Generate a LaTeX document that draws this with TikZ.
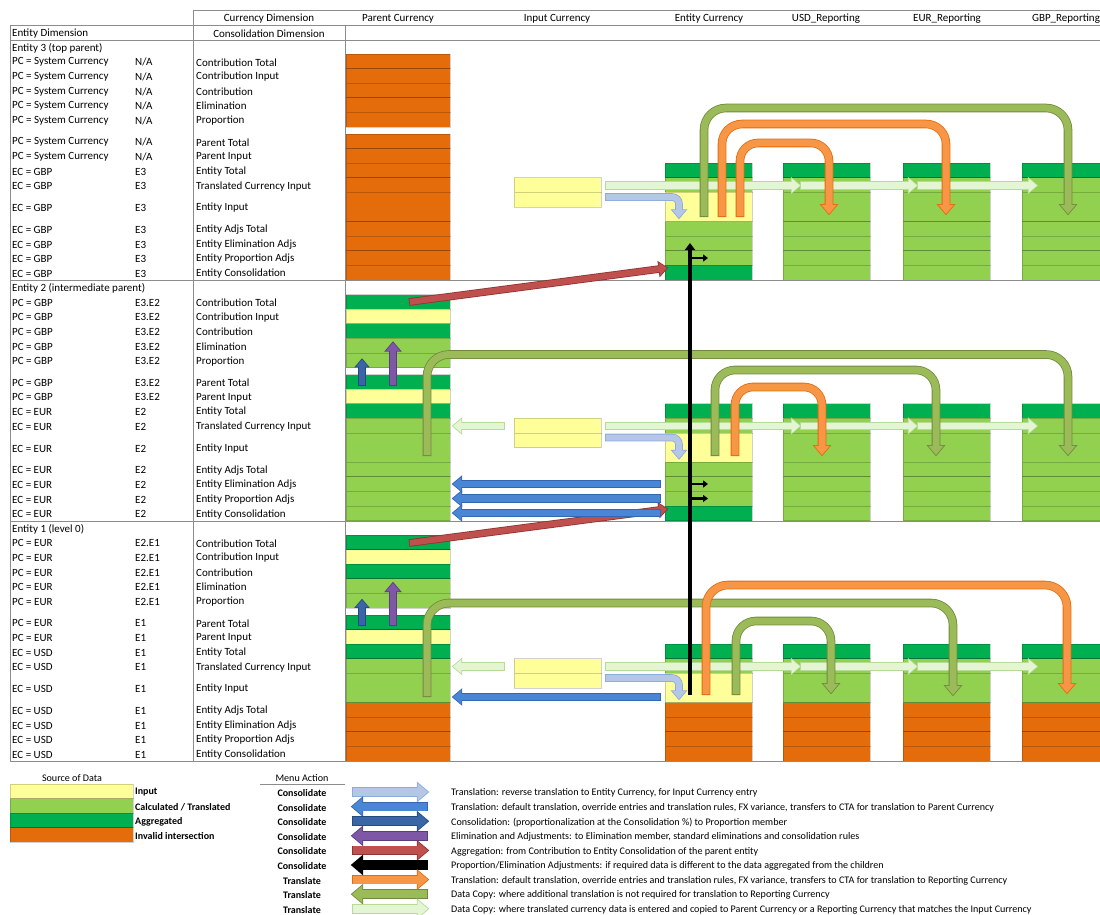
\documentclass[tikz,border=0pt]{standalone}
\usepackage{fontspec}
\setmainfont{Carlito}
\usetikzlibrary{arrows.meta}

% cell colours (source of data)
\definecolor{invc}{HTML}{E46C0A}
\definecolor{aggc}{HTML}{00B050}
\definecolor{calcc}{HTML}{92D050}
\definecolor{inpc}{HTML}{FFFF99}
\definecolor{tabline}{HTML}{8C8C8C}
% arrow colours (menu action)
\definecolor{paleblue}{HTML}{B4C7E7}
\definecolor{paleblueb}{HTML}{8EAADB}
\definecolor{midblue}{HTML}{4A86D6}
\definecolor{midblueb}{HTML}{3467B0}
\definecolor{darkblue}{HTML}{3A66A7}
\definecolor{darkblueb}{HTML}{254A80}
\definecolor{purplec}{HTML}{7E57A6}
\definecolor{purpleb}{HTML}{5C3D80}
\definecolor{redc}{HTML}{C0504D}
\definecolor{redb}{HTML}{8C3532}
\definecolor{orangec}{HTML}{F79646}
\definecolor{orangeb}{HTML}{E46C0A}
\definecolor{olivec}{HTML}{9BBB59}
\definecolor{oliveb}{HTML}{71893F}
\definecolor{palegreen}{HTML}{E3F5D2}
\definecolor{palegreenb}{HTML}{B5DB96}

\tikzset{
  lbl/.style={anchor=west, inner sep=0pt, yshift=-1pt, font=\fontsize{11}{13}\selectfont},
  hdr/.style={inner sep=0pt, yshift=-1pt, font=\fontsize{11}{13}\selectfont},
  leg/.style={inner sep=0pt, yshift=-1pt, font=\fontsize{10.1}{12}\selectfont},
  legb/.style={inner sep=0pt, yshift=-1pt, font=\fontsize{10}{12}\selectfont\bfseries},
  legd/.style={leg, anchor=west},
  cellln/.style={draw=black, draw opacity=0.18, line width=0.7pt},
  tab/.style={draw=tabline, line width=0.9pt},
  fat/.style n args={3}{draw=#1, line width=#3, shorten <=0.8pt,
    -{Triangle[length=0pt 1.3, width=0pt 2.1]},
    preaction={draw=#2, line width=#3+1.6pt, shorten <=0pt, shorten >=-1.3pt,
      -{Triangle[length=0pt 1.3, width=0pt 2.1]}}},
  pgr/.style={fat={palegreen}{palegreenb}{6.5pt}},
  pbl/.style={fat={paleblue}{paleblueb}{6pt}},
  mbl/.style={fat={midblue}{midblueb}{6.5pt}},
  dbl/.style={fat={darkblue}{darkblueb}{5.5pt}},
  pur/.style={fat={purplec}{purpleb}{6.5pt}},
  rdl/.style={fat={redc}{redb}{6pt}},
  org/.style={fat={orangec}{orangeb}{7pt}},
  olv/.style={fat={olivec}{oliveb}{7pt}},
  blk/.style={draw=black, line width=3.5pt, -{Triangle[length=7pt, width=10pt]}},
  blkstub/.style={draw=black, line width=2.5pt, -{Triangle[length=5pt, width=7pt]}},
}

% row labels of one entity block: key, top, title, pc, id 1, id 2, ec, id 3
\newcommand\entityrows[8]{%
  \node[lbl] (#1-head) at (12,#2+7) {#3};
  \foreach \a/\k/\t in {14/ct/Contribution Total, 28.6/ci/Contribution Input,
      43.2/co/Contribution, 57.8/el/Elimination, 72.4/pr/Proportion}{
    \node[lbl] (#1-\k-pc) at (12,#2+\a+7.3) {#4};
    \node[lbl] (#1-\k-id) at (135,#2+\a+7.3) {#5};
    \node[lbl] (#1-\k) at (196,#2+\a+7.3) {\t};
  }
  \foreach \a/\k/\t in {94/pt/Parent Total, 108.6/pi/Parent Input}{
    \node[lbl] (#1-\k-pc) at (12,#2+\a+7.3) {#4};
    \node[lbl] (#1-\k-id) at (135,#2+\a+7.3) {#6};
    \node[lbl] (#1-\k) at (196,#2+\a+7.3) {\t};
  }
  \foreach \a/\k/\t in {130.5/et/Entity Total, 145.1/tc/Translated Currency Input,
      167/ei/Entity Input, 188.9/at/Entity Adjs Total, 203.5/ea/Entity Elimination Adjs,
      218.1/pa/Entity Proportion Adjs, 232.7/ec/Entity Consolidation}{
    \node[lbl] (#1-\k-pc) at (12,#2+\a) {#7};
    \node[lbl] (#1-\k-id) at (135,#2+\a) {#8};
    \node[lbl] (#1-\k) at (196,#2+\a) {\t};
  }
}

\begin{document}
\begin{tikzpicture}[x=1pt, y=-1pt]
  \useasboundingbox (0,0) rectangle (1100,915);

  % Parent Currency column
  \foreach \a/\b in {14/28.6, 28.6/43.2, 43.2/57.8, 57.8/72.4, 72.4/87, 94/108.6, 108.6/123.2,
      123.2/137.8, 137.8/152.4, 152.4/181.6, 181.6/196.2, 196.2/210.8, 210.8/225.4, 225.4/240}
    \filldraw[cellln, fill=invc] (346,40+\a) rectangle (450,40+\b);
  \foreach \a/\b/\c in {14/28.6/aggc, 28.6/43.2/inpc, 43.2/57.8/aggc, 57.8/72.4/calcc, 72.4/87/calcc,
      94/108.6/aggc, 108.6/123.2/inpc, 123.2/137.8/aggc, 137.8/152.4/calcc, 152.4/181.6/calcc,
      181.6/196.2/calcc, 196.2/210.8/calcc, 210.8/225.4/calcc, 225.4/240/calcc}
    \filldraw[cellln, fill=\c] (346,280.5+\a) rectangle (450,280.5+\b);
  \foreach \a/\b/\c in {14/28.6/aggc, 28.6/43.2/inpc, 43.2/57.8/aggc, 57.8/72.4/calcc, 72.4/87/calcc,
      94/108.6/aggc, 108.6/123.2/inpc, 123.2/137.8/aggc, 137.8/152.4/calcc, 152.4/181.6/calcc,
      181.6/196.2/invc, 196.2/210.8/invc, 210.8/225.4/invc, 225.4/240/invc}
    \filldraw[cellln, fill=\c] (346,521+\a) rectangle (450,521+\b);

  % Input Currency column
  \foreach \T in {40, 280.5, 521} {
    \filldraw[cellln, fill=inpc] (514,\T+137.8) rectangle (601,\T+152.4);
    \filldraw[cellln, fill=inpc] (514,\T+152.4) rectangle (601,\T+167);
  }

  % Entity Currency and reporting columns
  \foreach \T in {40, 280.5} {
    \foreach \a/\b/\c in {123.2/137.8/aggc, 137.8/152.4/calcc, 152.4/181.6/inpc, 181.6/196.2/calcc,
        196.2/210.8/calcc, 210.8/225.4/calcc, 225.4/240/aggc}
      \filldraw[cellln, fill=\c] (665,\T+\a) rectangle (752,\T+\b);
    \foreach \xa/\xb in {783/870, 903/990, 1022/1100}
      \foreach \a/\b/\c in {123.2/137.8/aggc, 137.8/152.4/calcc, 152.4/181.6/calcc, 181.6/196.2/calcc,
          196.2/210.8/calcc, 210.8/225.4/calcc, 225.4/240/calcc}
        \filldraw[cellln, fill=\c] (\xa,\T+\a) rectangle (\xb,\T+\b);
  }
  \foreach \a/\b/\c in {123.2/137.8/aggc, 137.8/152.4/calcc, 152.4/181.6/inpc, 181.6/196.2/invc,
      196.2/210.8/invc, 210.8/225.4/invc, 225.4/240/invc}
    \filldraw[cellln, fill=\c] (665,521+\a) rectangle (752,521+\b);
  \foreach \xa/\xb in {783/870, 903/990, 1022/1100}
    \foreach \a/\b/\c in {123.2/137.8/aggc, 137.8/152.4/calcc, 152.4/181.6/calcc, 181.6/196.2/invc,
        196.2/210.8/invc, 210.8/225.4/invc, 225.4/240/invc}
      \filldraw[cellln, fill=\c] (\xa,521+\a) rectangle (\xb,521+\b);

  % Table rules
  \draw[tab] (193,10) -- (1100,10);
  \draw[tab] (10,25) -- (1100,25);
  \foreach \y in {40, 280.5, 521, 761}
    \draw[tab] (10,\y) -- (1100,\y);
  \draw[tab] (10,25) -- (10,761);
  \draw[tab] (193,10) -- (193,761);
  \draw[tab] (345,25) -- (345,761);

  % Headers
  \node[hdr] (h-cur) at (269,18) {Currency Dimension};
  \node[hdr] (h-con) at (269,32.5) {Consolidation Dimension};
  \node[lbl] (h-ent) at (12,32.5) {Entity Dimension};
  \node[hdr] (h-par) at (398,18) {Parent Currency};
  \node[hdr] (h-inp) at (557,18) {Input Currency};
  \node[hdr] (h-ec) at (709,18) {Entity Currency};
  \node[hdr] (h-usd) at (826,18) {USD\_Reporting};
  \node[hdr] (h-eur) at (947,18) {EUR\_Reporting};
  \node[hdr] (h-gbp) at (1066,18) {GBP\_Reporting};

  % Row labels
  \entityrows{E3}{40}{Entity 3 (top parent)}{PC = System Currency}{N/A}{N/A}{EC = GBP}{E3}
  \entityrows{E2}{280.5}{Entity 2 (intermediate parent)}{PC = GBP}{E3.E2}{E3.E2}{EC = EUR}{E2}
  \entityrows{E1}{521}{Entity 1 (level 0)}{PC = EUR}{E2.E1}{E1}{EC = USD}{E1}

  % Translated input copied on, reverse translation
  \foreach \T in {40, 280.5, 521} {
    \draw[pgr] (605,\T+145.5) -- (800,\T+145.5);
    \draw[pgr] (800,\T+145.5) -- (917,\T+145.5);
    \draw[pgr] (917,\T+145.5) -- (1037,\T+145.5);
    \draw[pbl, rounded corners=7pt] (605,\T+157) -- (679,\T+157) -- (679,\T+178);
  }
  \foreach \T in {280.5, 521} {
    \draw[pgr] (505,\T+145.5) -- (453,\T+145.5);
    \draw[dbl] (362,\T+105) -- (362,\T+79);
    \draw[pur] (393,\T+105) -- (393,\T+62);
  }

  % Aggregation to parent
  \draw[rdl] (409,302) -- (667,268);
  \draw[rdl] (409,543) -- (667,509);

  % Translation to parent currency
  \foreach \y in {203.5, 218, 232.5}
    \draw[mbl] (661,280.5+\y) -- (453,280.5+\y);
  \draw[mbl] (661,697) -- (453,697);

  % Entity 3 to reporting
  \draw[olv, rounded corners=22pt] (704,217) -- (704,108) -- (1068,108) -- (1068,214);
  \draw[org, rounded corners=20pt] (722,217) -- (722,124) -- (946,124) -- (946,214);
  \draw[org, rounded corners=18pt] (740,217) -- (740,143) -- (829,143) -- (829,214);
  % Entity 2 to reporting
  \draw[olv, rounded corners=22pt] (427,456) -- (427,354.5) -- (1068,354.5) -- (1068,455);
  \draw[olv, rounded corners=20pt] (715,456) -- (715,370) -- (936,370) -- (936,455);
  \draw[org, rounded corners=18pt] (735,456) -- (735,387) -- (822,387) -- (822,455);
  % Entity 1 to reporting
  \draw[olv, rounded corners=22pt] (427,697) -- (427,603) -- (953,603) -- (953,695);
  \draw[org, rounded corners=22pt] (706,695) -- (706,585) -- (1067,585) -- (1067,693);
  \draw[olv, rounded corners=20pt] (736,695) -- (736,621) -- (831,621) -- (831,693);

  % Proportion / elimination adjustments
  \draw[blk] (690,695) -- (690,243);
  \draw[blkstub] (690,258) -- (708,258);
  \draw[blkstub] (690,484) -- (708,484);
  \draw[blkstub] (690,498.5) -- (708,498.5);

  % Legend: source of data
  \node[leg] (src) at (72,777) {Source of Data};
  \draw[tab] (10,784) -- (133,784);
  \filldraw[cellln, fill=inpc] (10,784) rectangle (133,798.6);
  \filldraw[cellln, fill=calcc] (10,798.6) rectangle (133,813.2);
  \filldraw[cellln, fill=aggc] (10,813.2) rectangle (133,827.8);
  \filldraw[cellln, fill=invc] (10,827.8) rectangle (133,842.4);
  \node[legb, anchor=west] (s-in) at (135,791.3) {Input};
  \node[legb, anchor=west] (s-ca) at (135,805.9) {Calculated / Translated};
  \node[legb, anchor=west] (s-ag) at (135,820.5) {Aggregated};
  \node[legb, anchor=west] (s-iv) at (135,835.1) {Invalid intersection};

  % Legend: menu action
  \node[leg] (ma) at (302,777) {Menu Action};
  \draw[tab] (260,784) -- (345,784);
  \node[legb] (a1) at (302,792) {Consolidate};
  \node[legb] (a2) at (302,806.6) {Consolidate};
  \node[legb] (a3) at (302,821.2) {Consolidate};
  \node[legb] (a4) at (302,835.8) {Consolidate};
  \node[legb] (a5) at (302,850.4) {Consolidate};
  \node[legb] (a6) at (302,865) {Consolidate};
  \node[legb] (a7) at (302,879.6) {Translate};
  \node[legb] (a8) at (302,894.2) {Translate};
  \node[legb] (a9) at (302,908.8) {Translate};
  \draw[fat={paleblue}{paleblueb}{8pt}] (352,792) -- (428,792);
  \draw[fat={midblue}{midblueb}{8pt}] (428,806.6) -- (352,806.6);
  \draw[fat={darkblue}{darkblueb}{8pt}] (352,821.2) -- (428,821.2);
  \draw[fat={purplec}{purpleb}{8pt}] (428,835.8) -- (352,835.8);
  \draw[fat={redc}{redb}{8pt}] (352,850.4) -- (428,850.4);
  \draw[fat={black}{black}{8pt}] (428,865) -- (352,865);
  \draw[fat={orangec}{orangeb}{8pt}] (352,879.6) -- (428,879.6);
  \draw[fat={olivec}{oliveb}{8pt}] (428,894.2) -- (352,894.2);
  \draw[fat={palegreen}{palegreenb}{8pt}] (352,908.8) -- (428,908.8);
  \node[legd] (d1) at (451,792) {Translation: reverse translation to Entity Currency, for Input Currency entry};
  \node[legd] (d2) at (451,806.6) {Translation: default translation, override entries and translation rules, FX variance, transfers to CTA for translation to Parent Currency};
  \node[legd] (d3) at (451,821.2) {Consolidation: (proportionalization at the Consolidation \%) to Proportion member};
  \node[legd] (d4) at (451,835.8) {Elimination and Adjustments: to Elimination member, standard eliminations and consolidation rules};
  \node[legd] (d5) at (451,850.4) {Aggregation: from Contribution to Entity Consolidation of the parent entity};
  \node[legd] (d6) at (451,865) {Proportion/Elimination Adjustments: if required data is different to the data aggregated from the children};
  \node[legd] (d7) at (451,879.6) {Translation: default translation, override entries and translation rules, FX variance, transfers to CTA for translation to Reporting Currency};
  \node[legd] (d8) at (451,894.2) {Data Copy: where additional translation is not required for translation to Reporting Currency};
  \node[legd] (d9) at (451,908.8) {Data Copy: where translated currency data is entered and copied to Parent Currency or a Reporting Currency that matches the Input Currency};
\end{tikzpicture}
\end{document}
